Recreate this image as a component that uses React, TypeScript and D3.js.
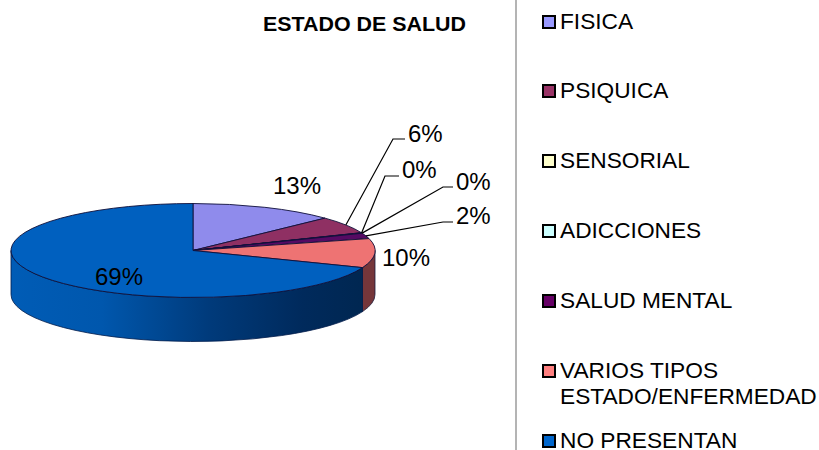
import React from "react";
import * as d3 from "d3";

const categories = ["FISICA", "PSIQUICA", "SENSORIAL", "ADICCIONES", "SALUD MENTAL", "VARIOS TIPOS ESTADO/ENFERMEDAD", "NO PRESENTAN"];
const values = [12.9, 5.9, 0.1, 0.1, 1.9, 10, 69];
const legendColors = ["#9999ff", "#993366", "#ffffcc", "#ccffff", "#660066", "#ff8080", "#0066cc"];
const faceColors = ["#8f8bec", "#8f3063", "#ffffcc", "#ccffff", "#560a63", "#ee7373", "#0060bf"];
const legendLines = [["FISICA"], ["PSIQUICA"], ["SENSORIAL"], ["ADICCIONES"], ["SALUD MENTAL"], ["VARIOS TIPOS", "ESTADO/ENFERMEDAD"], ["NO PRESENTAN"]];
const legendBaselines = [29, 98, 168, 238, 308, 378, 448];
// label anchor (left x, baseline) and optional leader elbow
const labelPos: [number, number][] = [[273, 194], [408, 142], [402, 178], [456, 190], [456, 224], [382, 266], [95, 285]];
const elbows: ([number, number, number] | null)[] = [null, [393, 139, 405], [385, 176, 399], [443, 187, 453], [443, 222, 453], null, null];

const font = "'Liberation Sans', Arial, sans-serif";
const cx = 193, cy = 250.5, rx = 182, ry = 47, depth = 44;

const pie = d3.pie<number>().sort(null).value((d) => d);
const arcs = pie(values);
const arcGen = d3.arc<d3.PieArcDatum<number>>().innerRadius(0).outerRadius(rx);
const pt = (a: number): [number, number] => [cx + rx * Math.sin(a), cy - ry * Math.cos(a)];

function wall(a0: number, a1: number) {
  const [x0, y0] = pt(a0);
  const [x1, y1] = pt(a1);
  return `M${x0},${y0}A${rx},${ry} 0 0 1 ${x1},${y1}L${x1},${y1 + depth}A${rx},${ry} 0 0 0 ${x0},${y0 + depth}Z`;
}

export default function App() {
  const blue = arcs[6];
  const salmon = arcs[5];
  return (
    <svg width={819} height={450} style={{ position: "absolute", left: 0, top: 0, background: "#fff" }} fontFamily={font}>
      <defs>
        <linearGradient id="blueWall" gradientUnits="userSpaceOnUse" x1={cx - rx} x2={cx + rx} y1={0} y2={0}>
          <stop offset="0" stopColor="#005cb6" />
          <stop offset="0.25" stopColor="#0057ad" />
          <stop offset="0.55" stopColor="#003a7a" />
          <stop offset="0.8" stopColor="#002a5c" />
          <stop offset="1" stopColor="#00264f" />
        </linearGradient>
      </defs>
      <path d={wall(Math.PI / 2, salmon.endAngle)} fill="#75363a" stroke="#1a1a3a" strokeWidth={0.8} />
      <path d={wall(blue.startAngle, 3 * Math.PI / 2)} fill="url(#blueWall)" stroke="#001a4a" strokeWidth={0.8} />
      <g transform={`translate(${cx},${cy}) scale(1,${ry / rx})`}>
        {arcs.map((a, i) => (
          <path key={categories[i]} d={arcGen(a) as string} fill={faceColors[i]} stroke="#10103a" strokeWidth={0.9} vectorEffect="non-scaling-stroke" />
        ))}
      </g>
      {arcs.map((a, i) => {
        const e = elbows[i];
        if (!e) return null;
        const [sx, sy] = pt((a.startAngle + a.endAngle) / 2);
        return <polyline key={i} points={`${sx},${sy} ${e[0]},${e[1]} ${e[2]},${e[1]}`} fill="none" stroke="#000" strokeWidth={1.2} />;
      })}
      {arcs.map((a, i) => (
        <text key={i} x={labelPos[i][0]} y={labelPos[i][1]} fontSize={24} fill="#000">
          {Math.round(a.data)}%
        </text>
      ))}
      <text x={263} y={31} fontSize={21} fontWeight="bold" fill="#000" textLength={203} lengthAdjust="spacingAndGlyphs">ESTADO DE SALUD</text>
      <line x1={516} x2={516} y1={0} y2={450} stroke="#b4b4b4" strokeWidth={2} />
      {categories.map((c, i) => (
        <g key={c}>
          <rect x={543} y={legendBaselines[i] - 13} width={12} height={12} fill={legendColors[i]} stroke="#000" strokeWidth={2} />
          {legendLines[i].map((l, j) => (
            <text key={l} x={560} y={legendBaselines[i] + j * 26} fontSize={22.7} fill="#000">{l}</text>
          ))}
        </g>
      ))}
    </svg>
  );
}
